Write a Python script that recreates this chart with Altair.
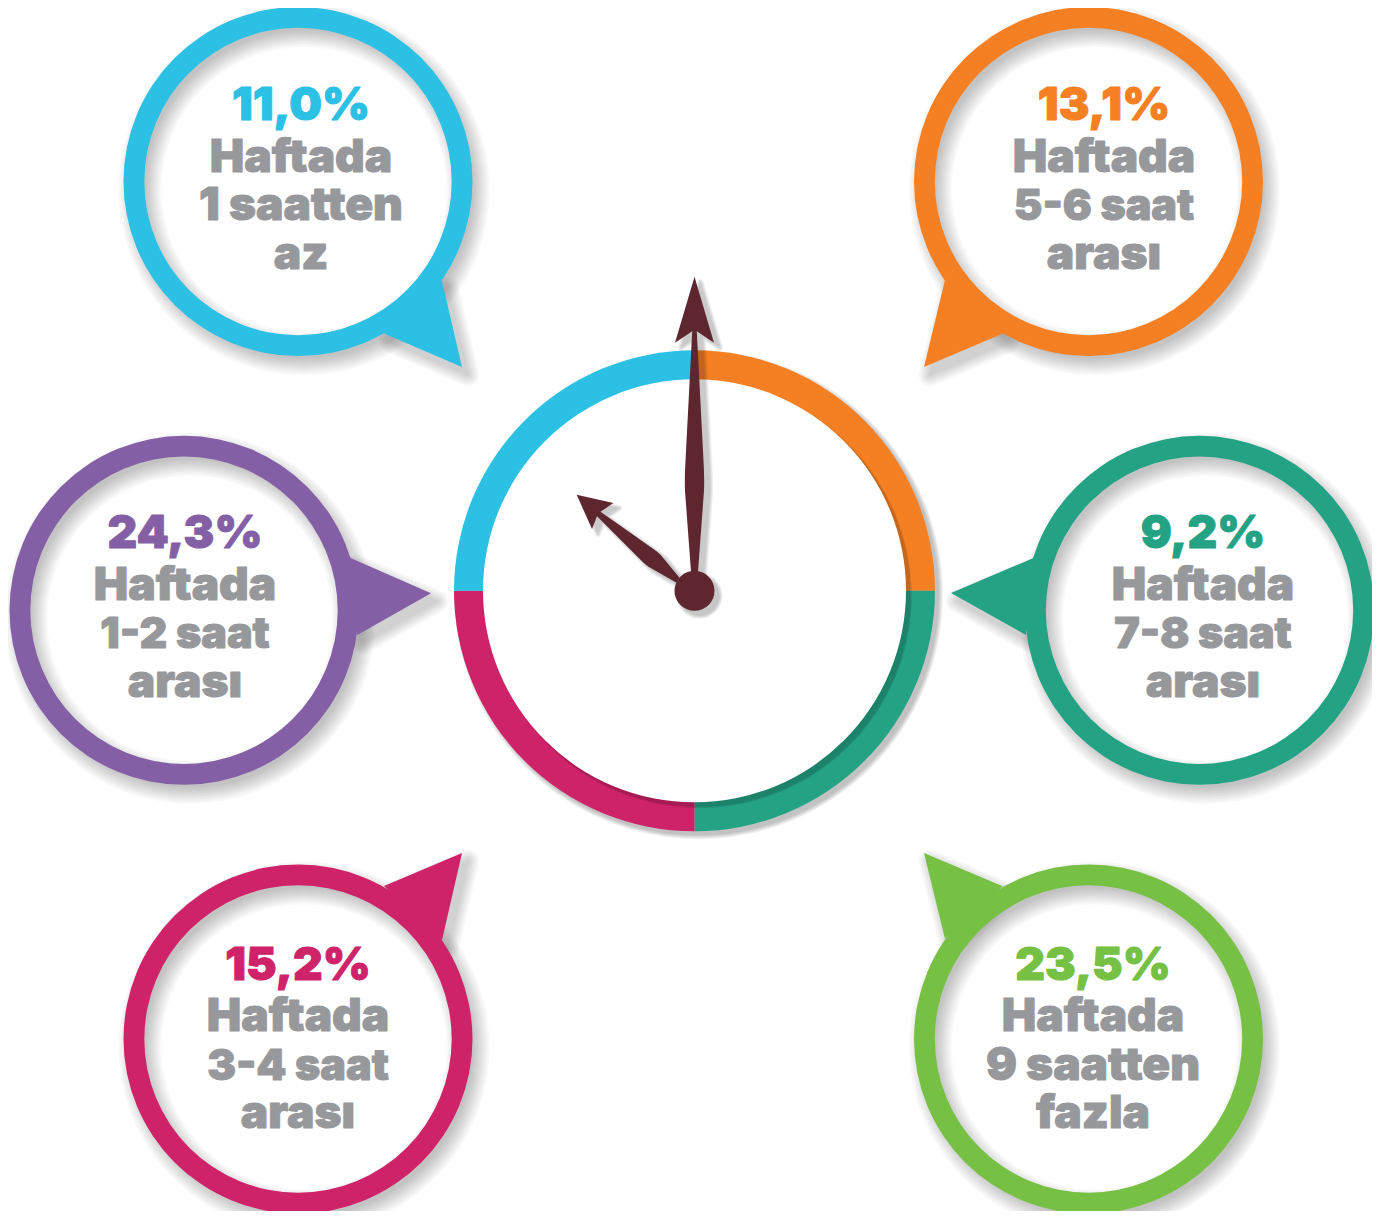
import math
import altair as alt
import pandas as pd

# ---------- data ----------
SHARES = [11.0, 13.1, 24.3, 9.2, 15.2, 23.5]
LINE_1 = ["Haftada"] * 6
LINE_2 = ["1 saatten", "5-6 saat", "1-2 saat", "7-8 saat", "3-4 saat", "9 saatten"]
LINE_3 = ["az", "arası", "arası", "arası", "arası", "fazla"]
COLOURS = ["#2BC0E4", "#F58023", "#845FA6", "#24A284", "#CE2368", "#76C044"]
CLOCK_COLOURS = ["#F58023", "#24A284", "#CE2368", "#2BC0E4"]
GREY = "#97989C"
DARK = "#5E2730"
FONT = "Inter"

# ---------- layout (screen pixels) ----------
W, H = 1380, 1219
CX = [298, 1088.5, 184, 1199.5, 298, 1088.5]
CY = [181.5, 181.5, 610.3, 610.3, 1039, 1039]
R_OUT, R_IN = 174.5, 153.7
TAILS = [
    "M143.7 98.5 L164 185.5 L86 152 Z",
    "M-143.5 98.5 L-164.5 185.5 L-85.5 152 Z",
    "M166 -52.6 L247 -17 L173.3 24.7 Z",
    "M-166 -52.3 L-248.5 -17.3 L-173.5 24.7 Z",
    "M144 -99 L164 -186 L86 -153 Z",
    "M-143.5 -100.3 L-164.5 -186 L-85.8 -152.7 Z",
]
TEXT_X = [301, 1104, 185, 1203, 298, 1093]
BASE = [[120, 172, 220, 269]] * 2 + [[548, 600, 648, 697]] * 2 + [[980, 1031, 1080, 1128]] * 2
HUB = (694.5, 590.8)
CLOCK_R, CLOCK_IN, HUB_R = 240.5, 211.5, 20
LONG_HAND = ("M0 -314 L19.5 -248 L2.3 -259.5 L9 -130 Q10 -114 9.5 -100 L3.5 -19 L-3.5 -19 "
             "L-9.5 -100 Q-10 -114 -9 -130 L-2.3 -259.5 L-19.5 -248 Z")
SHORT_HAND = ("M-117.8 -96 L-81.2 -87.7 L-94 -79 L-40 -41 Q-37 -39 -34 -36 L-15 -13 L-18 -8 "
              "L-46 -24 Q-49 -26 -52 -29 L-97.5 -74.5 L-102.5 -61.7 Z")
TAU = 2 * math.pi

x_enc = alt.X("x:Q", scale=alt.Scale(domain=[8, W - 8], range=[0, W - 16]), axis=None)
y_enc = alt.Y("y:Q", scale=alt.Scale(domain=[8, H - 8], range=[0, H - 16]), axis=None)


def arcs(rows):
    df = pd.DataFrame(rows, columns=["x", "y", "r", "r2", "t0", "t1", "c", "o"])
    return alt.Chart(df).mark_arc(stroke=None).encode(
        x=x_enc, y=y_enc,
        theta=alt.Theta("t0:Q", scale=None, stack=None),
        theta2="t1:Q",
        radius=alt.Radius("r:Q", scale=None),
        radius2="r2:Q",
        color=alt.Color("c:N", scale=None),
        opacity=alt.Opacity("o:Q", scale=None),
    )


def shapes(rows):
    df = pd.DataFrame(rows, columns=["x", "y", "p", "c", "o", "sw"])
    return alt.Chart(df).mark_point(filled=True, strokeJoin="round").encode(
        x=x_enc, y=y_enc,
        shape=alt.Shape("p:N", scale=None),
        size=alt.value(4),
        color=alt.Color("c:N", scale=None),
        stroke=alt.Stroke("c:N", scale=None),
        strokeWidth=alt.StrokeWidth("sw:Q", scale=None),
        opacity=alt.Opacity("o:Q", scale=None),
    )


SPREADS = [11, 9, 7, 5, 3, 1, -1, -3, -5]
SH_DX, SH_DY, SH_A = 6, 8, 0.028
bubble_shadow = arcs([
    (cx + SH_DX, cy + SH_DY, R_OUT + s, max(R_IN - s, 0), 0, TAU, "#000000", SH_A)
    for cx, cy in zip(CX, CY) for s in SPREADS
])
tail_shadow = shapes([
    (cx + SH_DX, cy + SH_DY, p, "#000000", SH_A, max(2 * s, 0) + 0.01)
    for cx, cy, p in zip(CX, CY, TAILS) for s in SPREADS if s > 0
])

tails = shapes([(cx, cy, p, c, 1, 0.01) for cx, cy, p, c in zip(CX, CY, TAILS, COLOURS)])
rings = arcs([(cx, cy, R_OUT, R_IN, 0, TAU, c, 1) for cx, cy, c in zip(CX, CY, COLOURS)])

clock_shadow = arcs([
    (HUB[0] + 4, HUB[1] + 4, CLOCK_R + s, 0, 0, TAU, "#000000", 0.05)
    for s in [4, 3, 2, 1, 0]
])
clock_ring = arcs([
    (HUB[0], HUB[1], CLOCK_R, 0, i * TAU / 4, (i + 1) * TAU / 4, c, 1)
    for i, c in enumerate(CLOCK_COLOURS)
])
clock_inner_shadow = arcs([
    (HUB[0] + 4.5, HUB[1] + 4.5, CLOCK_IN + s, 0, 0, TAU, "#000000", 0.05)
    for s in [1.5, 1, 0.5, 0]
])
clock_face = arcs([(HUB[0], HUB[1], CLOCK_IN, 0, 0, TAU, "#FFFFFF", 1)])

hand_shadow = shapes([
    (HUB[0] + 6, HUB[1] + 5, p, "#000000", 0.05, sw)
    for p in [LONG_HAND, SHORT_HAND] for sw in [6, 4, 2, 0.01]
])
hub_shadow = arcs([
    (HUB[0] + 5, HUB[1] + 5, HUB_R + s, 0, 0, TAU, "#000000", 0.06) for s in [3, 2, 1, 0]
])
hands = shapes([(HUB[0], HUB[1], p, DARK, 1, 0.01) for p in [LONG_HAND, SHORT_HAND]])
hub = arcs([(HUB[0], HUB[1], HUB_R, 0, 0, TAU, DARK, 1)])

rows = []
for i, v in enumerate(SHARES):
    pct = f"{v:.1f}".replace(".", ",") + "%"
    rows.append((TEXT_X[i], BASE[i][0], pct, COLOURS[i], 46))
    for line, y in zip((LINE_1[i], LINE_2[i], LINE_3[i]), BASE[i][1:]):
        rows.append((TEXT_X[i], y, line, GREY, 43 if "-" in line else 46))

texts = alt.Chart(pd.DataFrame(rows, columns=["x", "y", "t", "c", "s"])).mark_text(
    font=FONT, fontWeight=900, align="center", baseline="alphabetic",
    strokeWidth=1, strokeJoin="round",
).encode(x=x_enc, y=y_enc, text="t:N", size=alt.Size("s:Q", scale=None),
         color=alt.Color("c:N", scale=None), stroke=alt.Stroke("c:N", scale=None))

chart = alt.layer(
    bubble_shadow, tail_shadow, clock_shadow, tails, rings,
    clock_ring, clock_inner_shadow, clock_face,
    hand_shadow, hub_shadow, hands, hub, texts,
).properties(
    width=W - 16, height=H - 16, padding=0, autosize=alt.AutoSizeParams(type="none"),
    background="#FFFFFF",
).configure_view(strokeWidth=0)

chart.save("out.html", embed_options={"renderer": "svg", "actions": False})
